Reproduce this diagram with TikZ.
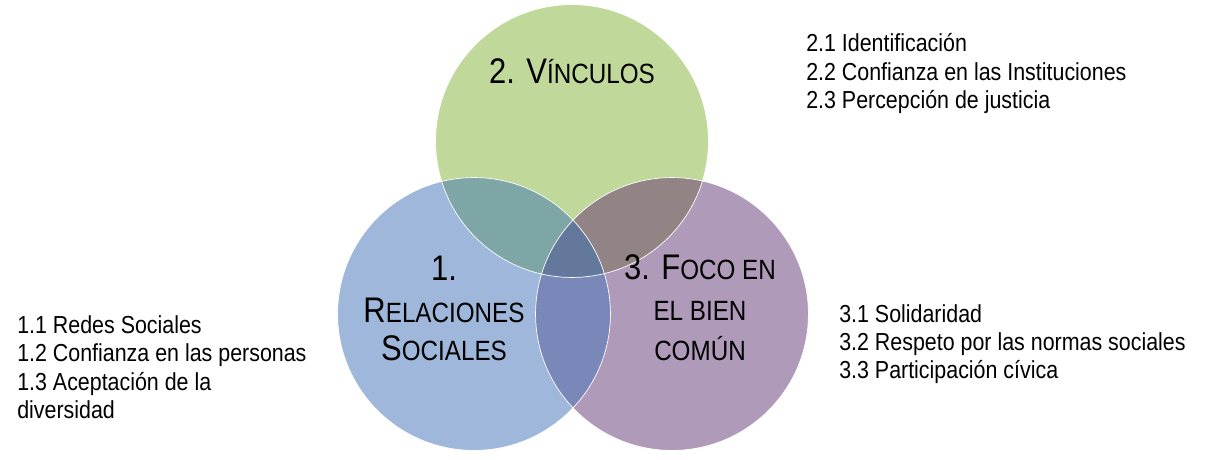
\documentclass[tikz,border=0pt]{standalone}
\usepackage{fontspec}
\setmainfont{Liberation Sans}[FakeStretch=0.87]
\usepackage{xcolor}
\usepackage{tikz}
\definecolor{cgreen}{RGB}{192,216,154}
\definecolor{cblue}{RGB}{158,183,218}
\definecolor{cpurple}{RGB}{176,154,186}
\definecolor{cgb}{RGB}{126,166,166}
\definecolor{cgp}{RGB}{146,132,132}
\definecolor{cbp}{RGB}{122,135,185}
\definecolor{call}{RGB}{100,120,156}
\newcommand\titlebig{\fontsize{25.3}{28}\selectfont}
\newcommand\titlesmall{\fontsize{19.8}{24}\selectfont}
\tikzset{
  item/.style={anchor=base west,inner sep=0pt,font=\fontsize{17.5}{21}\selectfont},
  title/.style={anchor=base,inner sep=0pt,font=\titlebig}
}

\begin{document}
\begin{tikzpicture}[x=0.025cm,y=-0.025cm]
\useasboundingbox (0,0) rectangle (1212,460);
\def\rad{3.41cm}
\coordinate (cV) at (572,141);
\coordinate (cR) at (474,314);
\coordinate (cF) at (672,314);
% circles
\fill[cgreen](cV)circle[radius=\rad];
\fill[cblue](cR)circle[radius=\rad];
\fill[cpurple](cF)circle[radius=\rad];
% overlaps
\begin{scope}
\clip(cV)circle[radius=\rad];
\fill[cgb](cR)circle[radius=\rad];
\fill[cgp](cF)circle[radius=\rad];
\end{scope}
\begin{scope}
\clip(cR)circle[radius=\rad];
\fill[cbp](cF)circle[radius=\rad];
\clip(cV)circle[radius=\rad];
\fill[call](cF)circle[radius=\rad];
\end{scope}
\draw[white,line width=0.5pt](cV)circle[radius=\rad]
(cR)circle[radius=\rad]
(cF)circle[radius=\rad];
% titles
\node[title](t2)at(572,83){2. V\titlesmall ÍNCULOS};
\node[title](t1a)at(444,280){1.};
\node[title](t1b)at(444,322){R\titlesmall ELACIONES};
\node[title](t1c)at(444,360){S\titlesmall OCIALES};
\node[title](t3a)at(700,279){3. F\titlesmall OCO EN};
\node[title](t3b)at(700,320){\titlesmall EL BIEN};
\node[title](t3c)at(700,360){\titlesmall COMÚN};
% lists
\foreach \t [count=\i] in {2.1 Identificación,2.2 Confianza en las Instituciones,2.3 Percepción de justicia}
  \node[item](v\i)at(806,{52+28*(\i-1)}){\t};
\foreach \t [count=\i] in {1.1 Redes Sociales,1.2 Confianza en las personas,1.3 Aceptación de la,diversidad}
  \node[item](r\i)at(17,{333+28.5*(\i-1)}){\t};
\foreach \t [count=\i] in {3.1 Solidaridad,3.2 Respeto por las normas sociales,3.3 Participación cívica}
  \node[item](f\i)at(839,{322+28*(\i-1)}){\t};
\end{tikzpicture}
\end{document}
